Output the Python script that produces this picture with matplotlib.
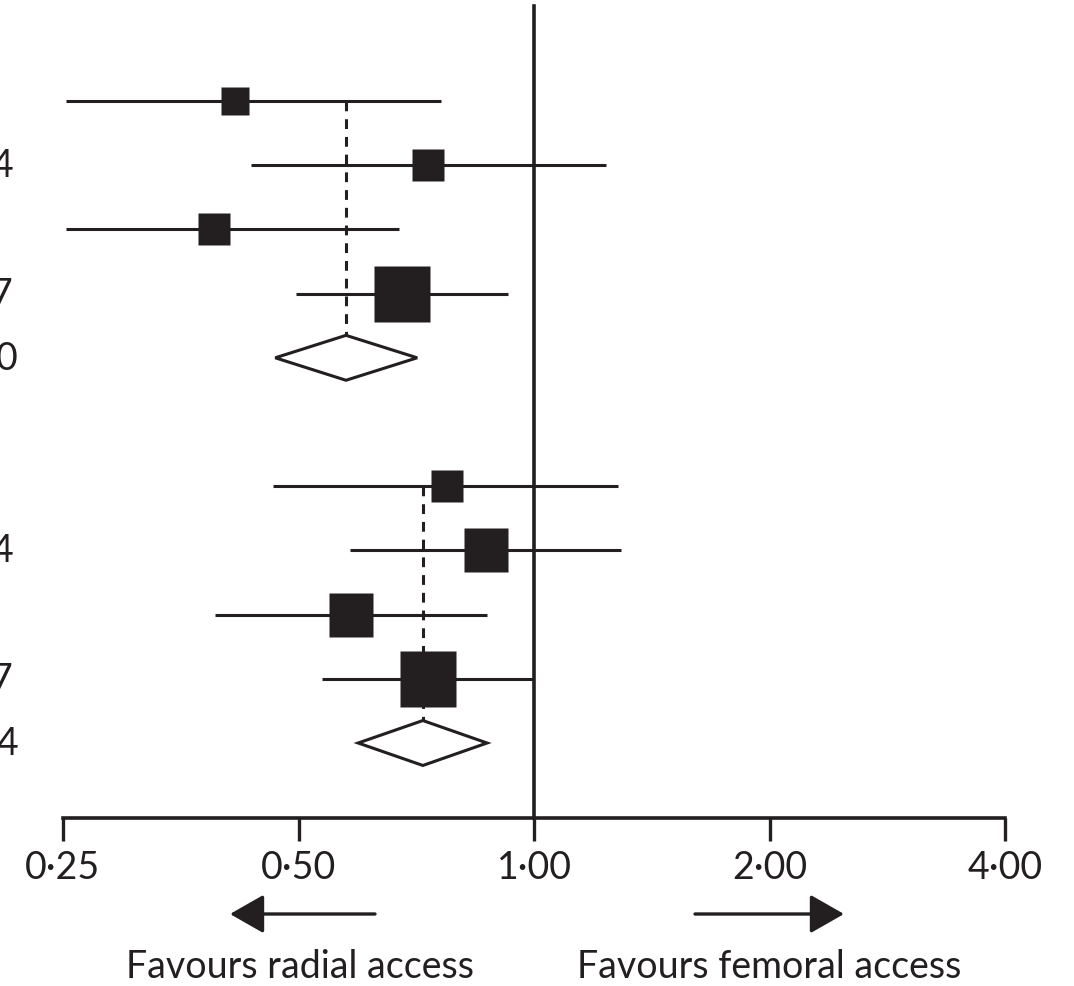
import matplotlib
matplotlib.use("Agg")
import matplotlib.pyplot as plt
from matplotlib.patches import Polygon

INK = "#231f20"
plt.rcParams['font.family'] = ['Lato', 'DejaVu Sans']

# study rows: odds ratio and 95% CI, two groups
rows = [0, 1, 2, 3, 6, 7, 8, 9]
est = [0.415, 0.732, 0.390, 0.678, 0.773, 0.868, 0.584, 0.732]
ci_lo = [0.252, 0.435, 0.252, 0.496, 0.464, 0.582, 0.391, 0.536]
ci_hi = [0.761, 1.236, 0.672, 0.926, 1.281, 1.292, 0.871, 1.000]
weights = [13.8, 16.8, 17.9, 51.5, 13.4, 23.9, 23.9, 38.7]
group = [0, 0, 0, 0, 1, 1, 1, 1]

# pooled estimates (diamonds)
pool_rows = [4, 10]
pool_est = [0.575, 0.721]
pool_lo = [0.467, 0.596]
pool_hi = [0.709, 0.871]
pool_first = [0, 6]

# right-hand column ends that fall inside the frame
col_rows = [1, 3, 4, 7, 9, 10]
col_text = ["4", "7", "0", "4", "7", "4"]

tick_vals = [0.25, 0.5, 1.0, 2.0, 4.0]
tick_labels = ["0·25", "0·50", "1·00", "2·00", "4·00"]

W, H = 1074, 987
fig = plt.figure(figsize=(W / 100, H / 100), dpi=100)
ax = fig.add_axes([0, 0, 1, 1])
ax.set_xscale('log', base=2)
px = 235.5  # pixels per doubling
ax.set_xlim(0.25 * 2 ** (-63 / px), 0.25 * 2 ** ((W - 63) / px))
step = 64.2
ax.set_ylim((H - 102) / step, -102 / step)
axis_y = (819 - 102) / step

for s in ['top', 'left', 'right']:
    ax.spines[s].set_visible(False)
ax.spines['bottom'].set_position(('data', axis_y))
ax.spines['bottom'].set_bounds(tick_vals[0], tick_vals[-1])
ax.spines['bottom'].set_linewidth(2.6)
ax.spines['bottom'].set_color(INK)
ax.set_yticks([])
ax.set_xticks(tick_vals)
ax.set_xticklabels(tick_labels)
ax.xaxis.set_minor_locator(matplotlib.ticker.NullLocator())
ax.tick_params(axis='x', direction='out', length=16.5, width=2.4, color=INK,
               pad=6, labelsize=27, labelcolor=INK)
ax.patch.set_visible(False)

# line of no effect
ax.plot([1, 1], [(7 - 102) / step, axis_y], color=INK, lw=2.6, zorder=2)

# confidence intervals and weighted squares
for g in (0, 1):
    wmax = max(w for w, gg in zip(weights, group) if gg == g)
    for r, e, lo, hi, w, gg in zip(rows, est, ci_lo, ci_hi, weights, group):
        if gg != g:
            continue
        ax.plot([lo, hi], [r, r], color=INK, lw=2.2, solid_capstyle='butt', zorder=3)
        side = 40.3 * (w / wmax) ** 0.5
        ax.plot([e], [r], marker='s', ms=side, mfc=INK, mec='none', zorder=5)

# pooled diamonds with dashed reference lines
h = 0.35
for r, e, lo, hi, r0 in zip(pool_rows, pool_est, pool_lo, pool_hi, pool_first):
    ax.plot([e, e], [r0, r - h], color=INK, lw=2.2, ls=(0, (3.2, 2.6)), zorder=4)
    ax.add_patch(Polygon([(lo, r), (e, r - h), (hi, r), (e, r + h)], closed=True,
                         facecolor='white', edgecolor=INK, lw=2.2, zorder=6))

for r, t in zip(col_rows, col_text):
    xr = 18 if t == "0" or r == 10 else 13
    ax.text(xr / W, 1 - (102 + r * step) / H, t, transform=ax.transAxes,
            ha='right', va='center', fontsize=27, color=INK)

# direction arrows and captions
ay = 1 - 915 / H
ax.annotate('', xy=(230 / W, ay), xytext=(375 / W, ay), xycoords='axes fraction',
            arrowprops=dict(arrowstyle='-|>,head_length=1.05,head_width=0.6',
                            lw=2.4, color=INK, shrinkA=0, shrinkB=0,
                            mutation_scale=20))
ax.annotate('', xy=(844 / W, ay), xytext=(695 / W, ay), xycoords='axes fraction',
            arrowprops=dict(arrowstyle='-|>,head_length=1.05,head_width=0.6',
                            lw=2.4, color=INK, shrinkA=0, shrinkB=0,
                            mutation_scale=20))
ty = 1 - 967 / H
ax.text(300 / W, ty, "Favours radial access", transform=ax.transAxes,
        ha='center', va='center', fontsize=27, color=INK)
ax.text(769 / W, ty, "Favours femoral access", transform=ax.transAxes,
        ha='center', va='center', fontsize=27, color=INK)

fig.savefig("out.png", dpi=100)
